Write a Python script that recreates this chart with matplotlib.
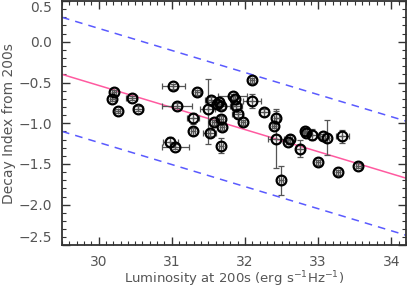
import matplotlib
matplotlib.use("Agg")
import matplotlib.pyplot as plt
import numpy as np
from matplotlib.ticker import MultipleLocator, FixedLocator

lum = [30.19, 30.21, 30.26, 30.45, 30.54, 31.02, 31.07, 31.35, 31.29, 31.29,
       30.98, 31.05, 31.49, 31.52, 31.53, 31.58, 31.65, 31.67, 31.67, 31.69,
       31.67, 31.62, 31.83, 31.86, 31.88, 31.90, 31.97, 32.10, 32.10, 32.26,
       32.40, 32.43, 32.42, 32.49, 32.59, 32.61, 32.75, 32.82, 32.84, 32.92,
       33.00, 33.06, 33.12, 33.27, 33.33, 33.55]
decay = [-0.70, -0.62, -0.85, -0.69, -0.82, -0.545, -0.785, -0.62, -0.94, -1.10,
         -1.225, -1.29, -0.82, -1.12, -0.71, -0.99, -0.74, -0.95, -0.79, -1.05,
         -1.275, -0.76, -0.67, -0.70, -0.79, -0.89, -0.99, -0.47, -0.727, -0.866,
         -1.03, -0.93, -1.19, -1.70, -1.23, -1.19, -1.31, -1.09, -1.12, -1.14,
         -1.48, -1.16, -1.175, -1.60, -1.157, -1.52]
lum_err = [0.03, 0.03, 0.03, 0.07, 0.07, 0.16, 0.20, 0.03, 0.08, 0.03,
           0.10, 0.19, 0.10, 0.09, 0.08, 0.03, 0.05, 0.03, 0.17, 0.03,
           0.03, 0.03, 0.20, 0.03, 0.08, 0.08, 0.03, 0.03, 0.12, 0.07,
           0.03, 0.03, 0.11, 0.03, 0.03, 0.03, 0.05, 0.03, 0.03, 0.06,
           0.03, 0.03, 0.03, 0.03, 0.09, 0.03]
decay_err_lo = [0.03, 0.03, 0.03, 0.03, 0.03, 0.03, 0.03, 0.03, 0.07, 0.04,
                0.06, 0.03, 0.43, 0.04, 0.03, 0.03, 0.03, 0.04, 0.03, 0.03,
                0.09, 0.03, 0.03, 0.03, 0.03, 0.03, 0.03, 0.03, 0.09, 0.04,
                0.03, 0.08, 0.36, 0.18, 0.03, 0.05, 0.10, 0.03, 0.03, 0.07,
                0.03, 0.03, 0.22, 0.03, 0.08, 0.03]
decay_err_hi = [0.03, 0.03, 0.03, 0.03, 0.03, 0.03, 0.03, 0.03, 0.07, 0.04,
                0.06, 0.03, 0.36, 0.04, 0.03, 0.03, 0.03, 0.04, 0.03, 0.03,
                0.09, 0.03, 0.03, 0.03, 0.03, 0.03, 0.03, 0.03, 0.09, 0.04,
                0.03, 0.08, 0.36, 0.18, 0.03, 0.05, 0.10, 0.03, 0.03, 0.07,
                0.03, 0.03, 0.22, 0.03, 0.08, 0.03]

x_ticks = [30, 31, 32, 33, 34]
y_ticks = [-2.5, -2.0, -1.5, -1.0, -0.5, 0.0, 0.5]
y_tick_labels = ['\u22122.5', '\u22122.0', '\u22121.5', '\u22121.0', '\u22120.5', '0.0', '0.5']

fit_slope = -0.271
fit_at_left = -0.40
fit_pivot = 29.5
band_offset = 0.70

fig = plt.figure(figsize=(4.07, 2.88), dpi=100)
ax = fig.add_axes([0.1523, 0.1476, 0.8452, 0.8489])

xlim = (29.5, 34.2)
ax.set_xlim(*xlim)
ax.set_ylim(-2.5, 0.5)

xx = np.array(xlim)
yfit = fit_at_left + fit_slope * (xx - fit_pivot)
ax.plot(xx, yfit, color='#ff5aa0', lw=1.1, zorder=2)
ax.plot(xx, yfit + band_offset, color='#5a5aff', lw=1.1, ls=(0, (5, 4)), zorder=2)
ax.plot(xx, yfit - band_offset, color='#5a5aff', lw=1.1, ls=(0, (5, 4)), zorder=2)

ax.errorbar(lum, decay, xerr=lum_err, yerr=[decay_err_lo, decay_err_hi],
            fmt='none', ecolor='#555555', elinewidth=0.9, capsize=2.0,
            capthick=0.9, zorder=3)
ax.plot(lum, decay, '+', ms=5, mec='#555555', mew=0.9, zorder=4)
ax.plot(lum, decay, 'o', ms=7, mfc='none', mec='black', mew=1.6, zorder=5)

ax.set_xticks(x_ticks)
ax.set_xticklabels([str(v) for v in x_ticks])
ax.set_yticks(y_ticks)
ax.set_yticklabels(y_tick_labels)
ax.xaxis.set_minor_locator(MultipleLocator(0.1))
ax.yaxis.set_minor_locator(MultipleLocator(0.1))

tc = '#555555'
ax.tick_params(which='both', direction='in', top=True, right=True,
               colors='#333333', labelcolor=tc, labelsize=10)
ax.tick_params(which='major', length=6, width=1.0, pad=7)
ax.tick_params(which='minor', length=3, width=0.8)
for s in ax.spines.values():
    s.set_linewidth(1.3)
    s.set_color('#333333')

ylabs = ax.get_yticklabels()
ylabs[-1].set_va('top')
ylabs[0].set_va('bottom')

ax.set_xlabel('Luminosity at 200s (erg s$^{-1}$Hz$^{-1}$)', fontsize=9.5, color=tc, labelpad=0)
ax.set_ylabel('Decay Index from 200s', fontsize=10, color=tc, labelpad=2)

fig.savefig('out.png', dpi=100)
